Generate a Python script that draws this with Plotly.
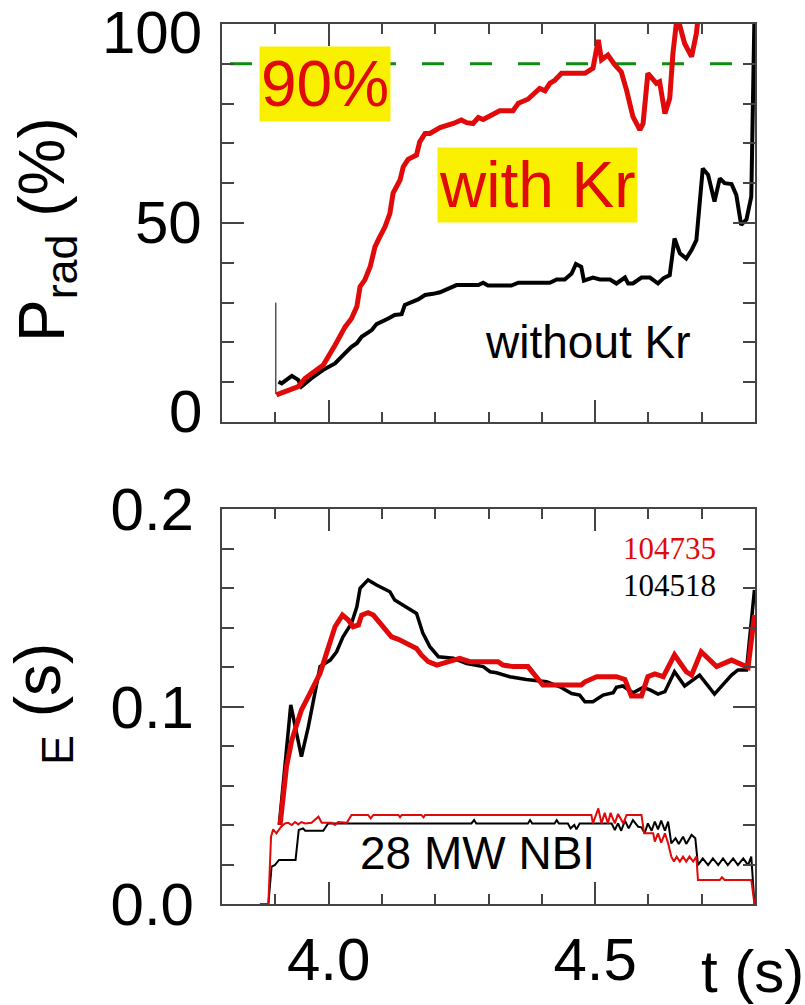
import plotly.graph_objects as go

# ---------------- data ----------------
# Top panel: radiated power fraction (%)
t_kr = [3.902, 3.931, 3.943, 3.956, 3.981, 3.990, 4.012, 4.031, 4.043, 4.053, 4.059, 4.068,
        4.078, 4.087, 4.093, 4.106, 4.115, 4.121, 4.134, 4.140, 4.149, 4.165, 4.171, 4.181,
        4.190, 4.209, 4.234, 4.249, 4.259, 4.271, 4.281, 4.290, 4.321, 4.346, 4.356, 4.374,
        4.396, 4.406, 4.415, 4.424, 4.437, 4.481, 4.496, 4.506, 4.512, 4.524, 4.537, 4.549,
        4.559, 4.571, 4.584, 4.590, 4.599, 4.615, 4.621, 4.631, 4.640, 4.646, 4.654, 4.668,
        4.681, 4.690, 4.700]
prad_kr = [6.8, 8.2, 8.9, 11.0, 13.5, 14.3, 19.3, 23.9, 26.0, 29.0, 34.0, 35.7,
           39.0, 44.0, 45.7, 49.1, 52.4, 57.5, 60.8, 64.1, 66.0, 67.1, 70.4, 72.5,
           72.5, 74.0, 75.0, 75.9, 75.2, 75.0, 76.5, 76.0, 78.2, 78.2, 80.1, 81.1,
           83.8, 83.2, 85.1, 85.8, 87.6, 87.6, 88.9, 96.0, 91.0, 92.2, 89.7, 88.0,
           83.4, 76.7, 73.4, 75.0, 87.6, 85.1, 85.5, 77.5, 81.3, 92.6, 102.0, 95.1,
           91.8, 97.6, 110.0]

t_nokr = [3.906, 3.912, 3.931, 3.943, 3.949, 3.968, 3.990, 4.012, 4.031, 4.043, 4.053, 4.062,
          4.081, 4.090, 4.112, 4.124, 4.137, 4.143, 4.168, 4.181, 4.196, 4.209, 4.240, 4.281,
          4.290, 4.299, 4.343, 4.356, 4.415, 4.428, 4.443, 4.456, 4.464, 4.474, 4.479, 4.496,
          4.509, 4.528, 4.540, 4.556, 4.562, 4.571, 4.587, 4.603, 4.618, 4.628, 4.640, 4.649,
          4.659, 4.671, 4.681, 4.690, 4.702, 4.712, 4.724, 4.734, 4.743, 4.756, 4.765, 4.774,
          4.784, 4.793, 4.800]
prad_nokr = [10.1, 9.7, 11.6, 10.6, 8.9, 11.0, 13.1, 14.7, 17.3, 18.9, 19.8, 21.4,
             23.1, 24.6, 26.0, 26.9, 27.1, 29.4, 30.8, 31.9, 32.2, 32.6, 34.4, 34.4,
             35.0, 34.3, 34.3, 35.0, 35.0, 35.8, 35.8, 37.3, 39.7, 39.0, 35.5, 36.3,
             35.8, 35.8, 34.8, 36.3, 34.8, 34.8, 36.3, 36.3, 34.8, 36.1, 36.9, 46.1,
             42.4, 41.1, 43.2, 45.7, 63.7, 62.1, 55.4, 61.2, 60.0, 59.8, 57.0, 49.5,
             50.9, 56.6, 110.0]

spike_t = [3.901, 3.901]
spike_p = [30.0, 7.0]

threshold_pct = 90

# Bottom panel: energy confinement time (s)
t_tau_104518 = [3.9075, 3.912, 3.918, 3.929, 3.949, 3.962, 3.984, 4.003, 4.015, 4.027, 4.043,
                4.053, 4.059, 4.074, 4.090, 4.115, 4.124, 4.146, 4.165, 4.177, 4.190, 4.206,
                4.234, 4.259, 4.290, 4.303, 4.315, 4.340, 4.359, 4.371, 4.409, 4.434, 4.456,
                4.471, 4.481, 4.496, 4.515, 4.534, 4.540, 4.552, 4.571, 4.590, 4.603, 4.618,
                4.631, 4.649, 4.668, 4.696, 4.724, 4.756, 4.768, 4.784, 4.799]
tau_104518 = [0.040, 0.0527, 0.0695, 0.1008, 0.0746, 0.0898, 0.1202, 0.1235, 0.1277, 0.1353,
              0.1421, 0.1505, 0.1598, 0.1641, 0.1615, 0.1581, 0.1539, 0.1505, 0.1471, 0.1370,
              0.1303, 0.1252, 0.1244, 0.1218, 0.1202, 0.1176, 0.1171, 0.1151, 0.1142, 0.1137,
              0.1125, 0.1100, 0.1066, 0.1058, 0.1024, 0.1024, 0.1058, 0.1070, 0.1097, 0.1104,
              0.1070, 0.1097, 0.1084, 0.1063, 0.1075, 0.1176, 0.1104, 0.1159, 0.1063, 0.1159,
              0.1185, 0.1185, 0.159]

t_tau_104735 = [3.909, 3.915, 3.921, 3.931, 3.949, 3.965, 3.984, 3.996, 4.012, 4.026, 4.037,
                4.046, 4.056, 4.062, 4.074, 4.084, 4.096, 4.118, 4.131, 4.146, 4.165, 4.174,
                4.187, 4.203, 4.228, 4.246, 4.265, 4.318, 4.327, 4.346, 4.374, 4.402, 4.474,
                4.481, 4.503, 4.540, 4.556, 4.568, 4.587, 4.599, 4.612, 4.628, 4.649, 4.671,
                4.681, 4.699, 4.728, 4.756, 4.787, 4.799]
tau_104735 = [0.040, 0.056, 0.0695, 0.083, 0.0982, 0.1066, 0.1168, 0.1269, 0.1404, 0.1463,
              0.1438, 0.1404, 0.1413, 0.1463, 0.1475, 0.1463, 0.1421, 0.1353, 0.1340, 0.1320,
              0.1294, 0.1261, 0.1227, 0.1210, 0.1230, 0.1244, 0.1227, 0.1227, 0.1210, 0.1202,
              0.1202, 0.1109, 0.1109, 0.1125, 0.1151, 0.1151, 0.1137, 0.1053, 0.1053, 0.1151,
              0.1165, 0.1151, 0.1261, 0.1176, 0.1159, 0.1277, 0.1202, 0.1235, 0.1198, 0.1463]

# NBI power traces (scaled onto the tau axis)
t_nbi_104735 = [3.871, 3.887, 3.892, 3.896, 3.902, 3.911, 3.918, 3.924, 3.931, 3.937, 3.943,
                3.949, 3.956, 3.968, 3.981, 3.987, 4.006, 4.012, 4.018, 4.034, 4.043, 4.074,
                4.079, 4.084, 4.131, 4.134, 4.137, 4.174, 4.178, 4.181, 4.493, 4.496, 4.506,
                4.512, 4.518, 4.524, 4.529, 4.537, 4.543, 4.553, 4.559, 4.587, 4.592, 4.609,
                4.612, 4.618, 4.624, 4.631, 4.637, 4.643, 4.648, 4.653, 4.659, 4.665, 4.671,
                4.677, 4.684, 4.690, 4.693, 4.734, 4.738, 4.743, 4.793, 4.799]
nbi_104735 = [0.0, 0.0, 0.0341, 0.0378, 0.0358, 0.0391, 0.0408, 0.0411, 0.0400, 0.0415, 0.0403,
              0.0415, 0.0408, 0.0411, 0.0442, 0.0411, 0.0411, 0.0400, 0.0415, 0.0411, 0.0451, 0.0451,
              0.0434, 0.0451, 0.0451, 0.0439, 0.0451, 0.0451, 0.0439, 0.0451, 0.0451, 0.0408, 0.0484,
              0.0408, 0.0462, 0.0408, 0.0462, 0.0408, 0.0456, 0.0408, 0.0451, 0.0451, 0.0358, 0.0358,
              0.0316, 0.0358, 0.0311, 0.0358, 0.0307, 0.0240, 0.0215, 0.0240, 0.0215, 0.0240, 0.0215,
              0.0240, 0.0215, 0.0240, 0.0122, 0.0122, 0.0135, 0.0122, 0.0122, 0.0]

t_nbi_104518 = [3.887, 3.893, 3.899, 3.907, 3.938, 3.944, 3.952, 3.956, 3.990, 3.999, 4.268,
                4.273, 4.277, 4.374, 4.378, 4.382, 4.424, 4.428, 4.432, 4.449, 4.454, 4.461,
                4.465, 4.471, 4.531, 4.537, 4.543, 4.549, 4.556, 4.563, 4.571, 4.581, 4.587,
                4.593, 4.599, 4.606, 4.612, 4.618, 4.624, 4.631, 4.637, 4.643, 4.651, 4.657,
                4.665, 4.671, 4.681, 4.688, 4.693, 4.702, 4.712, 4.721, 4.731, 4.740, 4.749,
                4.759, 4.768, 4.778, 4.787, 4.793, 4.799]
nbi_104518 = [0.0, 0.0189, 0.0197, 0.0223, 0.0223, 0.0375, 0.0383, 0.0371, 0.0371, 0.0408, 0.0408,
              0.0425, 0.0408, 0.0408, 0.0425, 0.0408, 0.0408, 0.0425, 0.0408, 0.0408, 0.0383, 0.0400,
              0.0378, 0.0408, 0.0408, 0.0375, 0.0408, 0.0371, 0.0422, 0.0383, 0.0425, 0.0391, 0.0388,
              0.0358, 0.0408, 0.0371, 0.0417, 0.0378, 0.0422, 0.0371, 0.0417, 0.0307, 0.0333, 0.0304,
              0.0341, 0.0304, 0.0350, 0.0333, 0.0197, 0.0231, 0.0197, 0.0231, 0.0197, 0.0231, 0.0197,
              0.0231, 0.0197, 0.0231, 0.0197, 0.0240, 0.0]

x_range = [3.8, 4.8]
prad_range = [0, 100]
tau_range = [0, 0.2]
prad_ticks = [0, 50, 100]
prad_ticklabels = ["0", "50", "100"]
shot_labels = ["104735", "104518"]

# ---------------- styling ----------------
RED = "#e00a0a"
BLACK = "#000000"
GREEN = "#118a11"
YELLOW = "#f9f000"
FONT = "Liberation Sans, Arial, sans-serif"
AXC = "#444444"

fig = go.Figure()

# top panel
fig.add_trace(go.Scatter(x=spike_t, y=spike_p, mode="lines", line=dict(color=BLACK, width=1),
                         xaxis="x", yaxis="y", hoverinfo="skip"))
fig.add_trace(go.Scatter(x=[x_range[0] + 0.015, x_range[1] - 0.03], y=[threshold_pct, threshold_pct],
                         mode="lines", line=dict(color=GREEN, width=3, dash="22px,26px"),
                         xaxis="x", yaxis="y"))
fig.add_trace(go.Scatter(x=t_nokr, y=prad_nokr, mode="lines", line=dict(color=BLACK, width=4),
                         xaxis="x", yaxis="y"))
fig.add_trace(go.Scatter(x=t_kr, y=prad_kr, mode="lines", line=dict(color=RED, width=5),
                         xaxis="x", yaxis="y"))

# bottom panel
fig.add_trace(go.Scatter(x=t_nbi_104518, y=nbi_104518, mode="lines", line=dict(color=BLACK, width=2),
                         xaxis="x2", yaxis="y2"))
fig.add_trace(go.Scatter(x=t_nbi_104735, y=nbi_104735, mode="lines", line=dict(color=RED, width=2),
                         xaxis="x2", yaxis="y2"))
fig.add_trace(go.Scatter(x=t_tau_104518, y=tau_104518, mode="lines", line=dict(color=BLACK, width=3.5),
                         xaxis="x2", yaxis="y2"))
fig.add_trace(go.Scatter(x=t_tau_104735, y=tau_104735, mode="lines", line=dict(color=RED, width=5),
                         xaxis="x2", yaxis="y2"))

xdom = [222 / 805, 755 / 805]
top_dom = [1 - 422 / 1005, 1 - 24 / 1005]
bot_dom = [1 - 904 / 1005, 1 - 509 / 1005]

common = dict(showline=True, linecolor=AXC, linewidth=2, mirror="allticks", ticks="inside",
              tickcolor=AXC, tickwidth=1.5, showgrid=False, zeroline=False, automargin=False,
              ticklabeloverflow="allow",
              tickfont=dict(family=FONT, size=60, color="black"))

fig.update_layout(
    width=805, height=1005, margin=dict(l=0, r=0, t=0, b=0, autoexpand=False),
    paper_bgcolor="white", plot_bgcolor="white", showlegend=False,
    xaxis=dict(domain=xdom, range=x_range, anchor="y", tick0=4.0, dtick=0.5, ticklen=22,
               showticklabels=False,
               minor=dict(ticks="inside", ticklen=10, tick0=4.0, dtick=0.1, tickcolor=AXC, tickwidth=1.5),
               **common),
    yaxis=dict(domain=top_dom, range=prad_range, anchor="x", tickmode="array", tickvals=prad_ticks,
               ticklen=22, showticklabels=False,
               minor=dict(ticks="inside", ticklen=12, tick0=0, dtick=10, tickcolor=AXC, tickwidth=1.5),
               **common),
    xaxis2=dict(domain=xdom, range=x_range, anchor="y2", tick0=4.0, dtick=0.5, ticklen=22,
                tickformat=".1f", ticklabelstandoff=2,
                minor=dict(ticks="inside", ticklen=10, tick0=4.0, dtick=0.1, tickcolor=AXC, tickwidth=1.5),
                **common),
    yaxis2=dict(domain=bot_dom, range=tau_range, anchor="x2", tick0=0, dtick=0.1, ticklen=22,
                tickformat=".1f", ticklabelstandoff=14,
                minor=dict(ticks="inside", ticklen=12, tick0=0, dtick=0.02, tickcolor=AXC, tickwidth=1.5),
                **common),
)

ann = []
# top-panel tick labels (nudged inward as in the original figure)
for val, lab, shift in zip(prad_ticks, prad_ticklabels, [11, 1, -8]):
    ann.append(dict(text=lab, x=(222 - 18) / 805, y=val, xref="paper", yref="y", yshift=shift,
                    showarrow=False, xanchor="right", yanchor="middle",
                    font=dict(family=FONT, size=60, color="black")))
# boxed labels in the top panel
ann.append(dict(text="90%", x=3.994, y=85.0, xref="x", yref="y", showarrow=False,
                font=dict(family=FONT, size=64, color=RED), bgcolor=YELLOW, borderpad=1))
ann.append(dict(text="with Kr", x=4.391, y=59.6, xref="x", yref="y", showarrow=False,
                font=dict(family=FONT, size=64, color=RED), bgcolor=YELLOW, borderpad=1))
ann.append(dict(text="without Kr", x=4.486, y=20.1, xref="x", yref="y", showarrow=False,
                font=dict(family=FONT, size=46, color=BLACK)))
# bottom panel labels
ann.append(dict(text="28 MW NBI", x=4.279, y=0.0258, xref="x2", yref="y2", showarrow=False,
                font=dict(family=FONT, size=46, color=BLACK)))
ann.append(dict(text=shot_labels[0], x=4.730, y=0.180, xref="x2", yref="y2", showarrow=False,
                xanchor="right", font=dict(family="Liberation Serif, Times New Roman, serif", size=31, color=RED)))
ann.append(dict(text=shot_labels[1], x=4.730, y=0.1615, xref="x2", yref="y2", showarrow=False,
                xanchor="right", font=dict(family="Liberation Serif, Times New Roman, serif", size=31, color=BLACK)))
# axis titles
ann.append(dict(text="P<sub>rad</sub> (%)", x=46 / 805, y=1 - 230 / 1005, xref="paper", yref="paper",
                showarrow=False, textangle=-90, xanchor="center", yanchor="middle",
                font=dict(family=FONT, size=64, color=BLACK)))
ann.append(dict(text="<sub>E</sub> (s)", x=42 / 805, y=1 - 704 / 1005, xref="paper", yref="paper",
                showarrow=False, textangle=-90, xanchor="center", yanchor="middle",
                font=dict(family=FONT, size=64, color=BLACK)))
ann.append(dict(text="t (s)", x=752 / 805, y=1 - 971 / 1005, xref="paper", yref="paper",
                showarrow=False, xanchor="center", yanchor="middle",
                font=dict(family=FONT, size=60, color=BLACK)))
fig.update_layout(annotations=ann)

fig.write_html("out.html")
